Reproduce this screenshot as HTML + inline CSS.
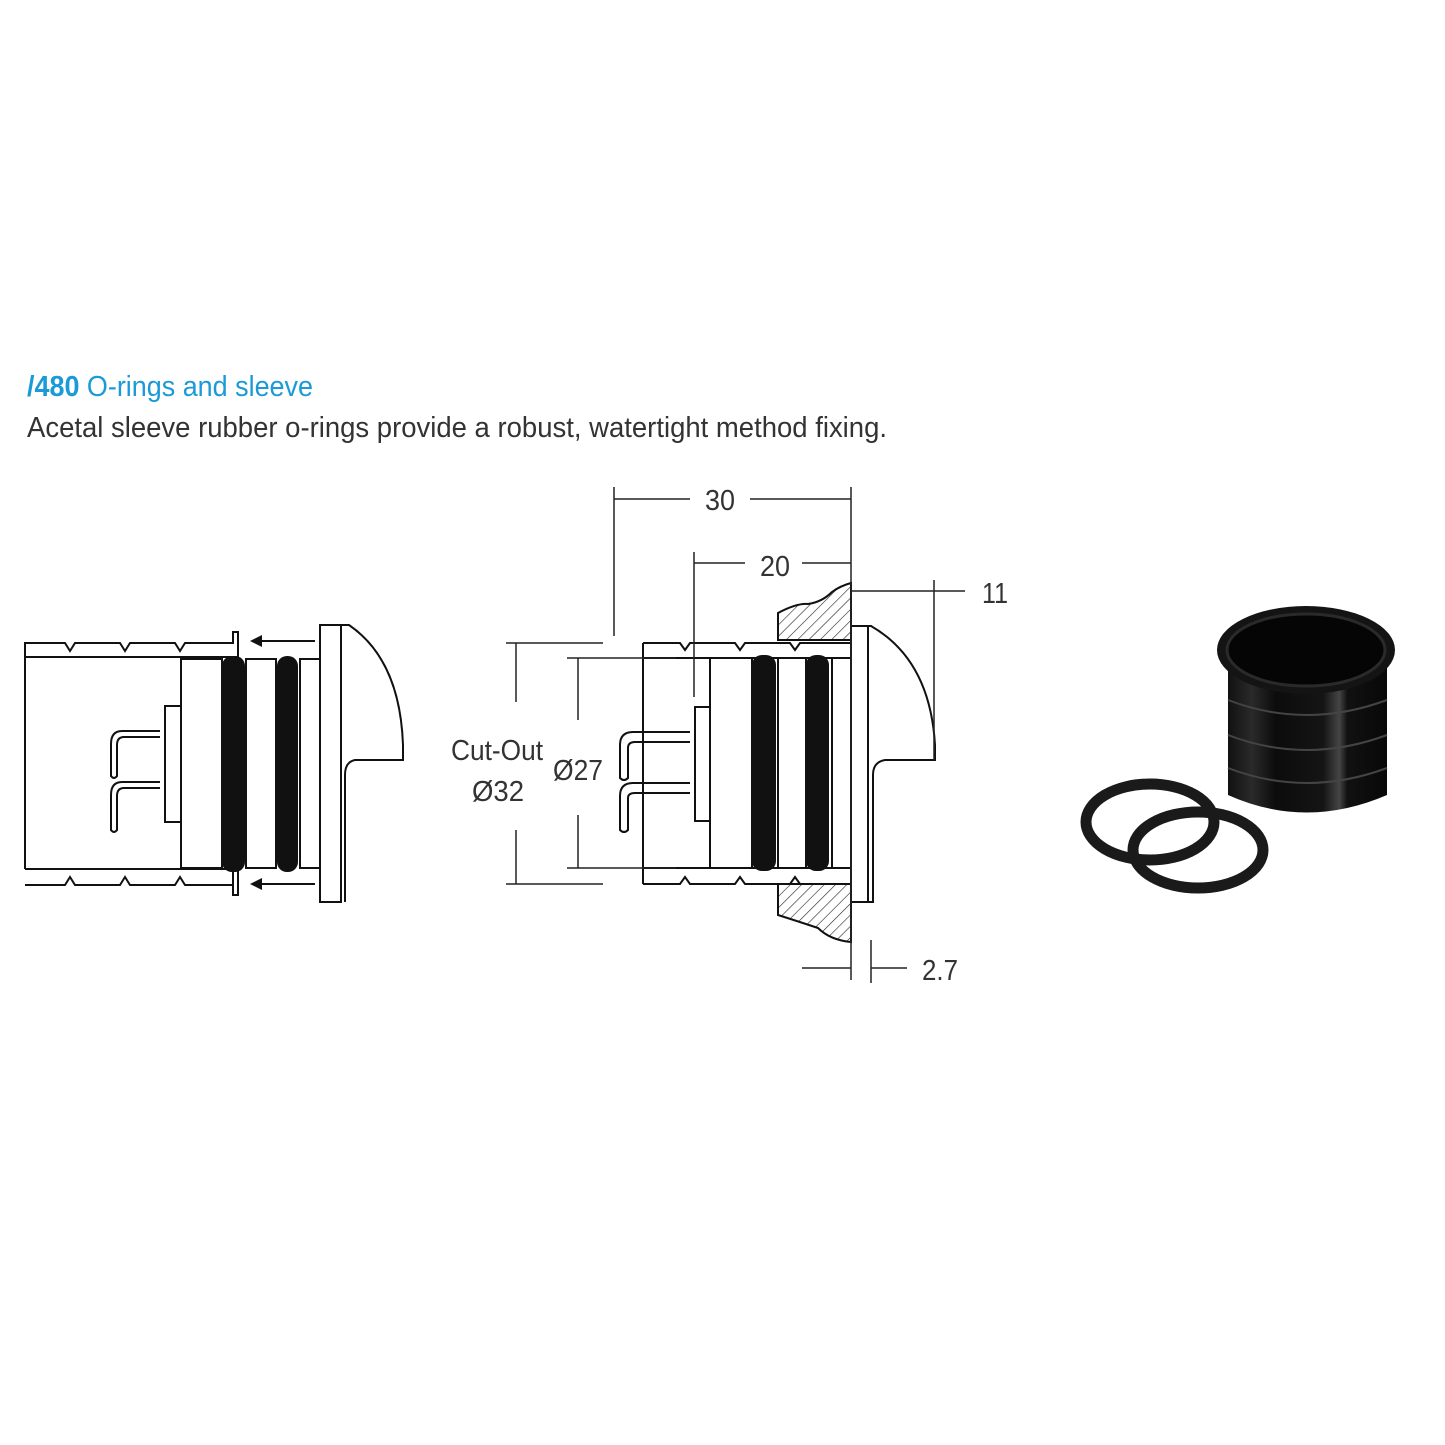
<!DOCTYPE html>
<html><head><meta charset="utf-8"><style>
html,body{margin:0;padding:0;background:#fff}
svg{display:block}
text{font-family:"Liberation Sans Narrow","Liberation Sans",sans-serif}
</style></head><body>
<svg width="1445" height="1445" viewBox="0 0 1445 1445" xmlns="http://www.w3.org/2000/svg">
<defs>
<pattern id="h" width="8" height="8" patternUnits="userSpaceOnUse" patternTransform="rotate(45)">
<line x1="0" y1="0" x2="0" y2="8" stroke="#222" stroke-width="1.2"/>
</pattern>
<linearGradient id="cyl" x1="0" x2="1">
<stop offset="0" stop-color="#111"/><stop offset="0.15" stop-color="#2a2a2a"/><stop offset="0.3" stop-color="#0c0c0c"/><stop offset="0.6" stop-color="#151515"/><stop offset="0.7" stop-color="#454545"/><stop offset="0.75" stop-color="#111"/><stop offset="1" stop-color="#080808"/>
</linearGradient>
</defs>
<text x="27" y="396" font-size="29" fill="#1a9ad6" textLength="286" lengthAdjust="spacingAndGlyphs"><tspan font-weight="bold">/480</tspan> O-rings and sleeve</text>
<text x="27" y="437" font-size="29" fill="#333" textLength="860" lengthAdjust="spacingAndGlyphs">Acetal sleeve rubber o-rings provide a robust, watertight method fixing.</text>

<g fill="none" stroke="#111" stroke-width="2">
<path d="M25 643 H65 L70 651 L75 643 H120 L125 651 L130 643 H175 L180 651 L185 643 H233 V632 H238 V657 H25 Z"/>
<path d="M25 657 V869"/>
<path d="M25 869 H233 V895 H238 V869"/>
<path d="M25 885 H65 L70 877 L75 885 H120 L125 877 L130 885 H175 L180 877 L185 885 H233"/>
<rect x="181" y="659" width="41" height="209"/>
<rect x="246" y="659" width="30" height="209"/>
<rect x="300" y="659" width="20" height="209"/>
<rect x="165" y="706" width="16" height="116"/>
<path d="M160 731 H122 Q111 731 111 744 V776 Q114 780 117 776 V745 Q117 737 124 737 H160"/>
<path d="M160 782 H122 Q111 782 111 795 V830 Q114 834 117 830 V796 Q117 788 124 788 H160"/>
<rect x="320" y="625" width="21" height="277"/>
<path d="M341 625 H349 Q400 660 403 745 V760 H355 Q345 762 345 775 V902"/>
<path d="M315 641 H260"/><path d="M315 884 H260"/>
</g>
<path d="M250 641 L262 635 L262 647 Z M250 884 L262 878 L262 890 Z" fill="#111"/>
<rect x="222" y="656" width="23" height="216" rx="10" fill="#111"/>
<rect x="277" y="656" width="21" height="216" rx="10" fill="#111"/>

<path d="M851 583 Q840 586 832 592 Q822 602 808 604 Q797 603 778 613 V640 H851 Z" fill="url(#h)" stroke="#111" stroke-width="2"/>
<path d="M778 884 V915 Q800 922 818 928 Q830 940 851 942 V884 Z" fill="url(#h)" stroke="#111" stroke-width="2"/>
<g fill="none" stroke="#111" stroke-width="2">
<path d="M643 643 H680 L685 650 L690 643 H735 L740 650 L745 643 H790 L795 650 L800 643 H851"/>
<path d="M643 643 V884"/>
<path d="M643 658 H851"/><path d="M643 868 H851"/>
<path d="M643 884 H680 L685 877 L690 884 H735 L740 877 L745 884 H790 L795 877 L800 884 H851"/>
<rect x="710" y="658" width="42" height="210"/>
<rect x="778" y="658" width="28" height="210"/>
<rect x="832" y="658" width="19" height="210"/>
<rect x="695" y="707" width="15" height="114"/>
<path d="M690 732 H633 Q620 732 620 745 V778 Q624 782 628 778 V748 Q628 742 635 742 H690"/>
<path d="M690 783 H633 Q620 783 620 796 V830 Q624 834 628 830 V798 Q628 793 635 793 H690"/>
<rect x="851" y="626" width="17" height="276"/>
<path d="M868 626 H871 Q930 660 935 745 V760 H885 Q873 762 873 775 V902 H868"/>
</g>
<rect x="752" y="655" width="24" height="216" rx="10" fill="#111"/>
<rect x="806" y="655" width="23" height="216" rx="10" fill="#111"/>
<g fill="none" stroke="#222" stroke-width="1.5">
<path d="M614 487 V636"/><path d="M851 487 V980"/>
<path d="M614 499 H690"/><path d="M750 499 H851"/>
<path d="M694 552 V697"/><path d="M694 563 H745"/><path d="M802 563 H851"/>
<path d="M851 591 H965"/><path d="M934 580 V760"/>
<path d="M516 643 V702"/><path d="M516 830 V884"/><path d="M506 643 H603"/><path d="M506 884 H603"/>
<path d="M578 658 V720"/><path d="M578 815 V868"/><path d="M567 658 H676"/><path d="M567 868 H676"/>
<path d="M871 940 V983"/><path d="M802 968 H851"/><path d="M871 968 H907"/>
</g>
<g font-size="29" fill="#333">
<text x="705" y="510" textLength="30" lengthAdjust="spacingAndGlyphs">30</text>
<text x="760" y="576" textLength="30" lengthAdjust="spacingAndGlyphs">20</text>
<text x="982" y="603" textLength="26" lengthAdjust="spacingAndGlyphs">11</text>
<text x="922" y="980" textLength="36" lengthAdjust="spacingAndGlyphs">2.7</text>
<text x="451" y="760" textLength="92" lengthAdjust="spacingAndGlyphs">Cut-Out</text>
<text x="472" y="801" textLength="52" lengthAdjust="spacingAndGlyphs">Ø32</text>
<text x="553" y="780" textLength="50" lengthAdjust="spacingAndGlyphs">Ø27</text>
</g>

<path d="M1228 660 V795 Q1306 830 1387 795 V660 Z" fill="url(#cyl)"/>
<g stroke="#444" stroke-width="2" fill="none">
<path d="M1228 700 Q1306 730 1387 700"/><path d="M1228 735 Q1306 765 1387 735"/><path d="M1228 768 Q1306 798 1387 768"/>
</g>
<ellipse cx="1306" cy="650" rx="89" ry="44" fill="#141414"/>
<ellipse cx="1306" cy="650" rx="79" ry="36" fill="#050505" stroke="#2a2a2a" stroke-width="3"/>
<ellipse cx="1150" cy="822" rx="64" ry="38" fill="none" stroke="#1a1a1a" stroke-width="11"/>
<ellipse cx="1198" cy="850" rx="65" ry="38" fill="none" stroke="#1a1a1a" stroke-width="11"/>
</svg>
</body></html>
